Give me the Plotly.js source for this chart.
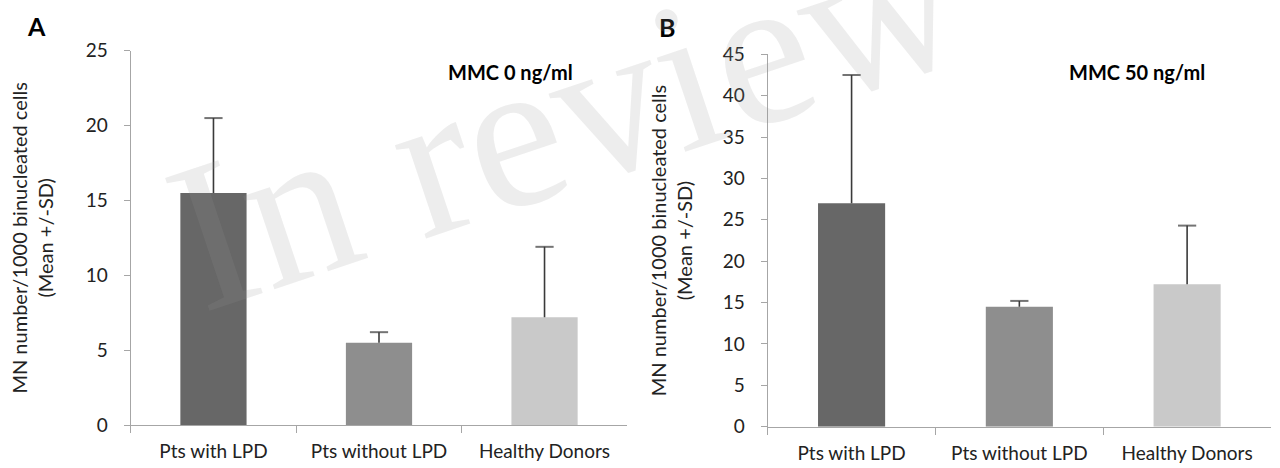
<!DOCTYPE html>
<html>
<head>
<meta charset="utf-8">
<script src="https://cdn.plot.ly/plotly-3.0.1.min.js"></script>
<style>html,body{margin:0;padding:0;background:#fff;}#chart{width:1280px;height:468px;}</style>
</head>
<body>
<div id="chart"></div>
<script>
// ---- data ----
const categories = ["Pts with LPD", "Pts without LPD", "Healthy Donors"];
const meanMMC0 = [15.5, 5.5, 7.2];
const sdMMC0 = [5.0, 0.7, 4.7];
const meanMMC50 = [27.0, 14.5, 17.2];
const sdMMC50 = [15.5, 0.7, 7.1];
const barColors = ["#676767", "#8e8e8e", "#c9c9c9"];
const yTitleText = "MN number/1000 binucleated cells<br>(Mean +/-SD)";
const panelTitles = ["MMC 0 ng/ml", "MMC 50 ng/ml"];
const panelLetters = ["A", "B"];
const watermarkText = "In review";

const W = 1280, H = 468;
const FONT = "Lato, 'Open Sans', sans-serif";
const axisColor = "#a6a6a6";
const errColor = "#3a3a3a";

function barTrace(y, xa, ya) {
  return {
    type: "bar", x: categories, y: y, xaxis: xa, yaxis: ya,
    marker: {color: barColors, line: {width: 0}},
    showlegend: false, hoverinfo: "x+y"
  };
}
// upward-only SD whiskers: stem from mean to mean+SD with a cap at the top
function sdTrace(mean, sd, xa, ya) {
  const xs = [], ys = [], sizes = [];
  categories.forEach((c, i) => {
    xs.push(c, c, null);
    ys.push(mean[i], mean[i] + sd[i], null);
    sizes.push(0, 13, 0);
  });
  return {
    type: "scatter", mode: "lines+markers", x: xs, y: ys, xaxis: xa, yaxis: ya,
    connectgaps: false, cliponaxis: false,
    line: {color: errColor, width: 1.6},
    marker: {symbol: "line-ew", size: sizes, color: errColor, line: {color: errColor, width: 2}},
    showlegend: false, hoverinfo: "skip"
  };
}

const data = [
  barTrace(meanMMC0, "x", "y"),
  sdTrace(meanMMC0, sdMMC0, "x", "y"),
  barTrace(meanMMC50, "x2", "y2"),
  sdTrace(meanMMC50, sdMMC50, "x2", "y2")
];

function xAxis(domain, anchor) {
  return {
    domain: domain, anchor: anchor, type: "category",
    showline: true, linecolor: axisColor, linewidth: 1.2,
    ticks: "outside", tickson: "boundaries", ticklen: 7, tickcolor: axisColor,
    showgrid: false, zeroline: false,
    tickfont: {family: FONT, size: 19, color: "#222"},
    ticklabelstandoff: 9, fixedrange: true
  };
}
function yAxis(domain, anchor, max, standoff) {
  return {
    domain: domain, anchor: anchor, range: [0, max], dtick: 5,
    showline: true, linecolor: axisColor, linewidth: 1.2,
    ticks: "outside", ticklen: 6, tickcolor: axisColor,
    showgrid: false, zeroline: false,
    tickfont: {family: FONT, size: 19, color: "#222"},
    ticklabelstandoff: 12,
    title: {text: yTitleText, font: {family: FONT, size: 20, color: "#222"}, standoff: standoff},
    fixedrange: true
  };
}

const layout = {
  width: W, height: H,
  margin: {l: 0, r: 0, t: 0, b: 0},
  paper_bgcolor: "#fff", plot_bgcolor: "rgba(0,0,0,0)",
  bargap: 0.6,
  xaxis: xAxis([130.7 / W, 627.3 / W], "y"),
  yaxis: yAxis([43 / H, 417.3 / H], "x", 25, 26),
  xaxis2: xAxis([767.7 / W, 1271 / W], "y2"),
  yaxis2: yAxis([41.3 / H, 413.7 / H], "x2", 45, 24),
  annotations: [
    {text: panelTitles[0], xref: "paper", yref: "paper", x: 510 / W, y: 1 - 72 / H,
     xanchor: "center", yanchor: "middle", showarrow: false,
     font: {family: FONT, size: 20, color: "#000", weight: "bold"}},
    {text: panelTitles[1], xref: "paper", yref: "paper", x: 1137 / W, y: 1 - 72 / H,
     xanchor: "center", yanchor: "middle", showarrow: false,
     font: {family: FONT, size: 20, color: "#000", weight: "bold"}},
    {text: panelLetters[0], xref: "paper", yref: "paper", x: 36 / W, y: 1 - 26 / H,
     xanchor: "center", yanchor: "middle", showarrow: false,
     font: {family: FONT, size: 25, color: "#000", weight: "bold"}},
    {text: panelLetters[1], xref: "paper", yref: "paper", x: 667 / W, y: 1 - 27 / H,
     xanchor: "center", yanchor: "middle", showarrow: false,
     font: {family: FONT, size: 25, color: "#000", weight: "bold"}},
    {text: watermarkText, xref: "paper", yref: "paper", x: 565 / W, y: 1 - 115 / H,
     xanchor: "center", yanchor: "middle", showarrow: false, textangle: -18.5,
     font: {family: "'Liberation Serif', 'DejaVu Serif', serif", size: 214, color: "rgba(150,150,150,0.17)"}}
  ]
};

Plotly.newPlot("chart", data, layout, {displayModeBar: false, staticPlot: true});
</script>
</body>
</html>
